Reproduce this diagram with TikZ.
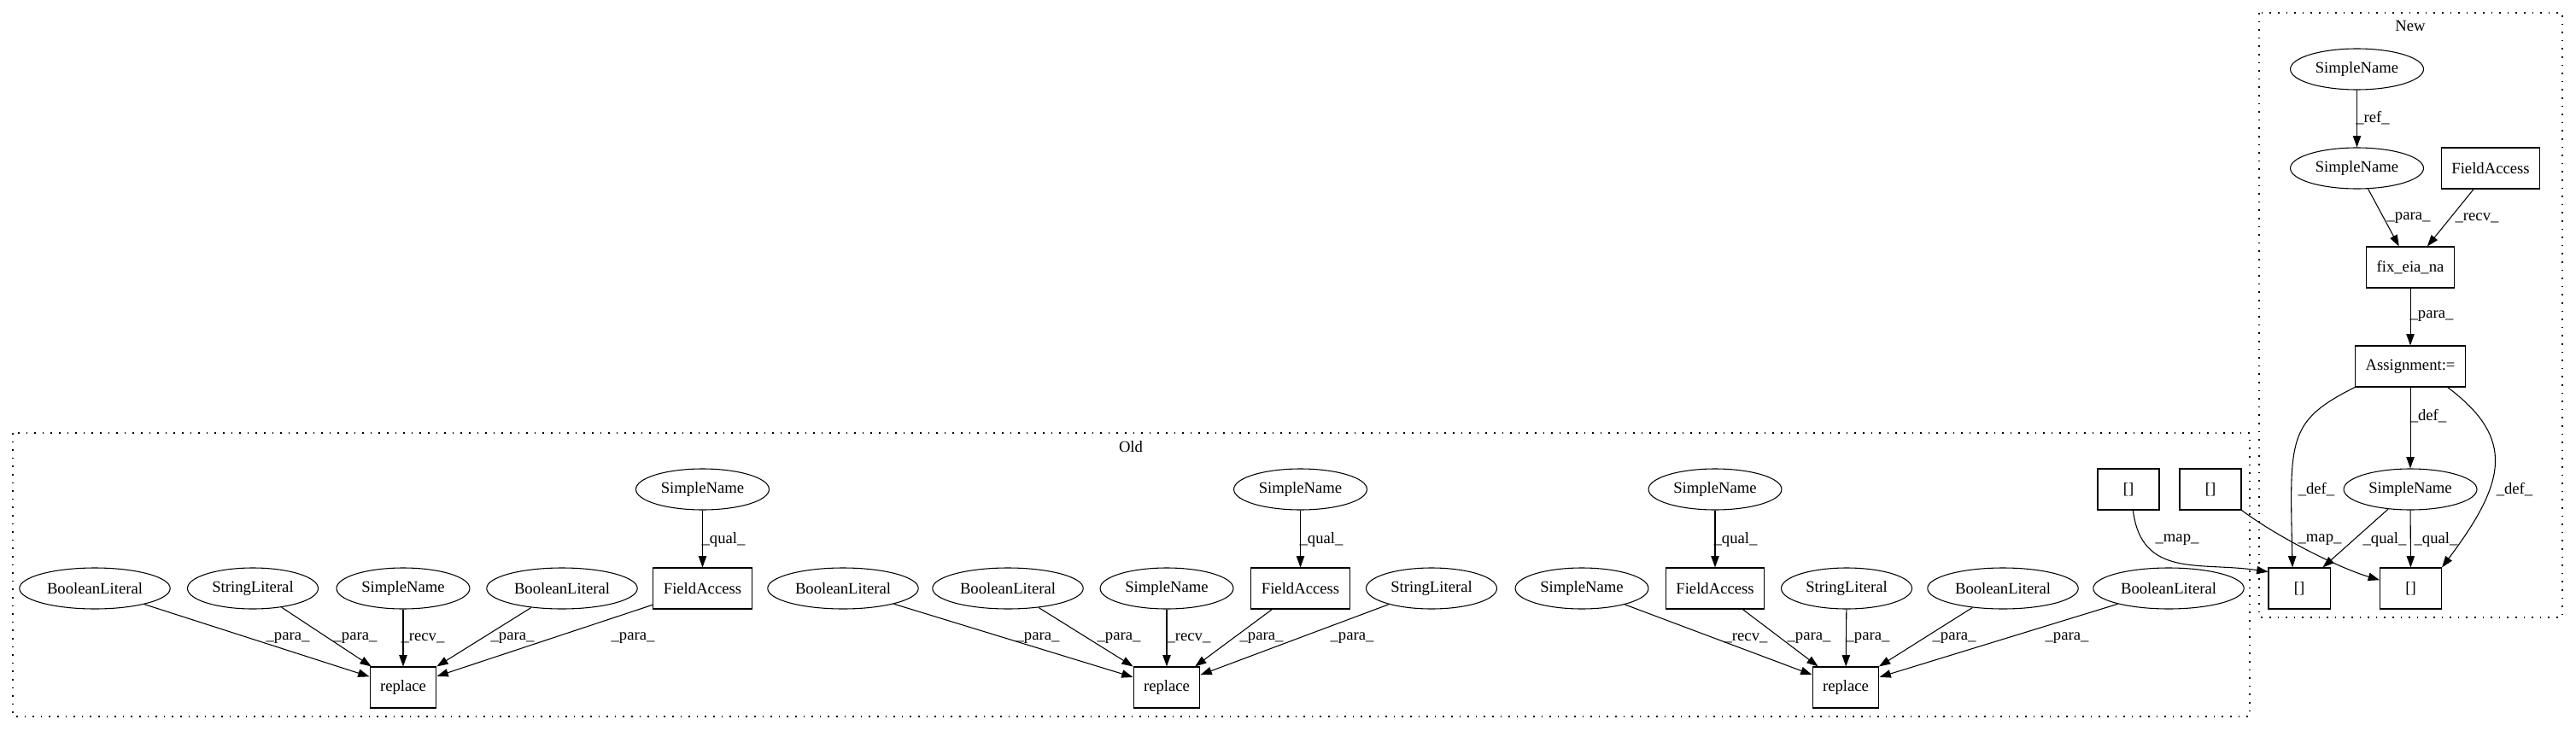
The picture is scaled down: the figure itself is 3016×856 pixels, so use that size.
\documentclass[tikz,border=0pt]{standalone}
\usepackage{fontspec}
\setmainfont{Liberation Serif}
\usetikzlibrary{arrows.meta,shapes.geometric}
\begin{document}
\begin{tikzpicture}
[x=0.75pt,y=-0.75pt,
 every node/.style={font=\fontsize{14pt}{16pt}\selectfont},
 ast/.style={draw,ellipse,inner xsep=4.8pt,inner ysep=2pt,minimum height=36pt,line width=0.8pt},
 box/.style={draw,rectangle,inner xsep=9pt,minimum width=54pt,minimum height=36pt,line width=0.8pt},
 arr/.style={-{Triangle[length=10pt,width=7pt]},line width=0.8pt},
 lbl/.style={inner sep=0pt},
 clus/.style={dash pattern=on 1.2pt off 6pt,line width=1pt}]
\useasboundingbox (0,0) rectangle (3016,856);
\draw[clus] (15,507) rectangle (2634,839);
\node (old) at (1324,523) {Old};
\draw[clus] (2645,15) rectangle (3000,723);
\node (new) at (2822,30) {New};

\node[ast] (nsnA) at (2759.5,81) {SimpleName};
\node[ast] (nsnB) at (2759.5,197) {SimpleName};
\node[box] (nfa) at (2916,197) {FieldAccess};
\node[box] (nfix) at (2822,313) {fix\_eia\_na};
\node[box] (nasg) at (2822,429) {Assignment:=};
\node[ast] (nsnC) at (2822,573) {SimpleName};
\node[box] (nidxL) at (2692,689) {[]};
\node[box] (nidxR) at (2822.5,689) {[]};

\node[ast] (oAbl) at (111,689) {BooleanLiteral};
\node[ast] (oAsl) at (296,689) {StringLiteral};
\node[ast] (oAsn) at (472,689) {SimpleName};
\node[ast] (oAblb) at (658,689) {BooleanLiteral};
\node[box] (oAfa) at (822.5,689) {FieldAccess};
\node[ast] (oAtop) at (822.5,573) {SimpleName};
\node[box] (oArep) at (472,805) {replace};

\node[ast] (oBbl) at (987,689) {BooleanLiteral};
\node[ast] (oBblb) at (1180,689) {BooleanLiteral};
\node[ast] (oBsn) at (1366,689) {SimpleName};
\node[box] (oBfa) at (1522.5,689) {FieldAccess};
\node[ast] (oBtop) at (1522.5,573) {SimpleName};
\node[ast] (oBsl) at (1676,689) {StringLiteral};
\node[box] (oBrep) at (1366,805) {replace};

\node[ast] (oCsn) at (1852,689) {SimpleName};
\node[box] (oCfa) at (2008,689) {FieldAccess};
\node[ast] (oCtop) at (2008,573) {SimpleName};
\node[ast] (oCsl) at (2162,689) {StringLiteral};
\node[ast] (oCbl) at (2345,689) {BooleanLiteral};
\node[ast] (oCblb) at (2539,689) {BooleanLiteral};
\node[box] (oCrep) at (2161,805) {replace};
\node[box] (oidxA) at (2492,573) {[]};
\node[box] (oidxB) at (2588,573) {[]};

\draw[arr] (nsnA)--(nsnB) node[lbl] at (2778,138) {\_ref\_};
\draw[arr] (nsnB)--(nfix) node[lbl] at (2820,255) {\_para\_};
\draw[arr] (nfa)--(nfix) node[lbl] at (2900,255) {\_recv\_};
\draw[arr] (nfix)--(nasg) node[lbl] at (2847,370) {\_para\_};
\draw[arr] (nasg)--(nsnC) node[lbl] at (2843,487) {\_def\_};
\draw[arr] (nasg.south west) .. controls +(-80,40) and +(-3,-150) .. ([xshift=-6pt]nidxL.north) node[lbl] at (2712,573) {\_def\_};
\draw[arr] ([xshift=-16pt]nasg.south east) .. controls +(80,60) and +(75,-100) .. (nidxR.north east) node[lbl] at (2944,573) {\_def\_};
\draw[arr] (nsnC)--(nidxL) node[lbl] at (2792,632) {\_qual\_};
\draw[arr] (nsnC)--(nidxR) node[lbl] at (2852,632) {\_qual\_};
\draw[arr] ([xshift=4pt]oidxA.south) .. controls +(10,80) and +(-80,-12) .. (nidxL.152) node[lbl] at (2549,632) {\_map\_};
\draw[arr] (oidxB.south east) .. controls +(40,30) and +(-50,-15) .. (nidxR.165) node[lbl] at (2716,632) {\_map\_};

\draw[arr] (oAtop)--(oAfa) node[lbl] at (847,632) {\_qual\_};
\draw[arr] (oAbl)--(oArep) node[lbl] at (337,747) {\_para\_};
\draw[arr] (oAsl)--(oArep) node[lbl] at (416,747) {\_para\_};
\draw[arr] (oAsn)--(oArep) node[lbl] at (495,747) {\_recv\_};
\draw[arr] (oAblb)--(oArep) node[lbl] at (600,747) {\_para\_};
\draw[arr] (oAfa)--(oArep) node[lbl] at (741,747) {\_para\_};

\draw[arr] (oBtop)--(oBfa) node[lbl] at (1547,632) {\_qual\_};
\draw[arr] (oBbl)--(oBrep) node[lbl] at (1215,747) {\_para\_};
\draw[arr] (oBblb)--(oBrep) node[lbl] at (1310,747) {\_para\_};
\draw[arr] (oBsn)--(oBrep) node[lbl] at (1392,747) {\_recv\_};
\draw[arr] (oBfa)--(oBrep) node[lbl] at (1477,747) {\_para\_};
\draw[arr] (oBsl)--(oBrep) node[lbl] at (1583,747) {\_para\_};

\draw[arr] (oCtop)--(oCfa) node[lbl] at (2032,632) {\_qual\_};
\draw[arr] (oCsn)--(oCrep) node[lbl] at (2044,747) {\_recv\_};
\draw[arr] (oCfa)--(oCrep) node[lbl] at (2118,747) {\_para\_};
\draw[arr] (oCsl)--(oCrep) node[lbl] at (2187,747) {\_para\_};
\draw[arr] (oCbl)--(oCrep) node[lbl] at (2288,747) {\_para\_};
\draw[arr] (oCblb)--(oCrep) node[lbl] at (2420,747) {\_para\_};

\end{tikzpicture}
\end{document}
